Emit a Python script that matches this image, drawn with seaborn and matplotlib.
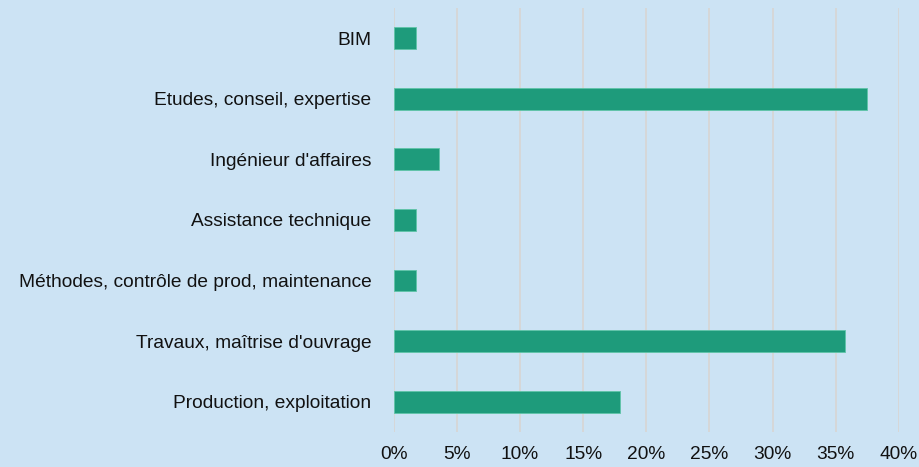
import matplotlib
matplotlib.use("Agg")
import matplotlib.pyplot as plt
from matplotlib.ticker import FuncFormatter
import seaborn as sns
import pandas as pd

# données
categories = ['BIM', 'Etudes, conseil, expertise', "Ingénieur d'affaires",
              'Assistance technique', 'Méthodes, contrôle de prod, maintenance',
              "Travaux, maîtrise d'ouvrage", 'Production, exploitation']
values = [1.8, 37.5, 3.6, 1.8, 1.8, 35.7, 17.9]
xticks = [0, 5, 10, 15, 20, 25, 30, 35, 40]

bg = '#cce3f4'
bar_color = '#1e9b7b'

sns.set_theme(style='white')
plt.rcParams['font.family'] = ['Liberation Sans', 'DejaVu Sans']

df = pd.DataFrame({'cat': categories, 'val': values})

fig = plt.figure(figsize=(9.2, 4.67), dpi=100)
fig.patch.set_facecolor(bg)
ax = fig.add_axes([0.428, 0.075, 0.549, 0.908])
ax.set_facecolor(bg)

sns.barplot(data=df, x='val', y='cat', color=bar_color, width=0.36,
            saturation=1, edgecolor='#5fc4a8', linewidth=0.6, ax=ax)

ax.set_xlim(0, 40)
ax.set_xticks(xticks)
ax.xaxis.set_major_formatter(FuncFormatter(lambda v, p: f'{v:.0f}%'))
ax.grid(axis='x', color='#d6d6d6', linewidth=1.3)
ax.set_axisbelow(True)
for s in ax.spines.values():
    s.set_visible(False)
ax.set_xlabel('')
ax.set_ylabel('')
ax.tick_params(axis='x', length=0, pad=10, labelsize=13.8, labelcolor='#111111')
ax.tick_params(axis='y', length=0, pad=16, labelsize=13.8, labelcolor='#111111')

fig.savefig('out.png', dpi=100, facecolor=bg)
